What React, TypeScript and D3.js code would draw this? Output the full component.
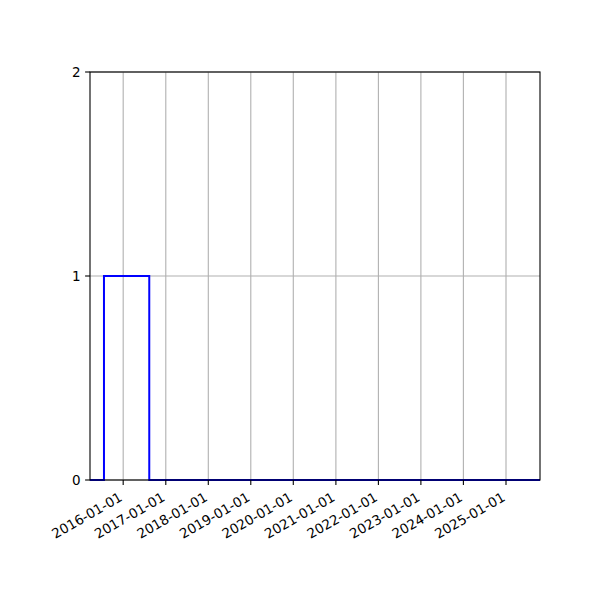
import * as d3 from "d3";

const stepDates = ["2015-03-22", "2015-07-20", "2016-08-12", "2025-10-20"];
const stepValues = [0, 1, 0, 0];
const yTicks = [0, 1, 2];
const tickYears = [2016, 2017, 2018, 2019, 2020, 2021, 2022, 2023, 2024, 2025];

const W = 600;
const H = 600;
const left = 90;
const right = 540;
const top = 72;
const bottom = 480;

export default function App() {
  const parse = d3.utcParse("%Y-%m-%d");
  const points = stepDates.map((d, i) => ({ date: parse(d)!, value: stepValues[i] }));
  const x = d3.scaleUtc().domain([points[0].date, points[points.length - 1].date]).range([left, right]);
  const y = d3.scaleLinear().domain([0, 2]).range([bottom, top]);
  const line = d3
    .line<{ date: Date; value: number }>()
    .x((d) => x(d.date))
    .y((d) => y(d.value))
    .curve(d3.curveStepAfter);
  const ticks = tickYears.map((yr) => new Date(Date.UTC(yr, 0, 1)));
  const fmt = d3.utcFormat("%Y-%m-%d");
  const font = "DejaVu Sans, sans-serif";

  return (
    <svg width={W} height={H} style={{ position: "absolute", left: 0, top: 0, background: "#fff" }}>
      <g stroke="#b0b0b0" strokeWidth={1.1}>
        {ticks.map((t) => (
          <line key={t.toISOString()} x1={x(t)} x2={x(t)} y1={top} y2={bottom} />
        ))}
        {yTicks.map((v) => (
          <line key={v} x1={left} x2={right} y1={y(v)} y2={y(v)} />
        ))}
      </g>
      <path d={line(points) ?? ""} fill="none" stroke="#0000ff" strokeWidth={2} />
      <rect x={left} y={top} width={right - left} height={bottom - top} fill="none" stroke="#000" strokeWidth={1.1} />
      <g stroke="#000" strokeWidth={1.1}>
        {ticks.map((t) => (
          <line key={t.toISOString()} x1={x(t)} x2={x(t)} y1={bottom} y2={bottom + 4.9} />
        ))}
        {yTicks.map((v) => (
          <line key={v} x1={left - 4.9} x2={left} y1={y(v)} y2={y(v)} />
        ))}
      </g>
      <g fontFamily={font} fontSize={13.5} fill="#000">
        {yTicks.map((v) => (
          <text key={v} x={left - 9.5} y={y(v)} dy="0.36em" textAnchor="end">
            {v}
          </text>
        ))}
        {ticks.map((t) => (
          <text
            key={t.toISOString()}
            transform={`translate(${x(t) - 5},${bottom + 11}) rotate(-30)`}
            textAnchor="end"
            dy="0.76em"
          >
            {fmt(t)}
          </text>
        ))}
      </g>
    </svg>
  );
}
